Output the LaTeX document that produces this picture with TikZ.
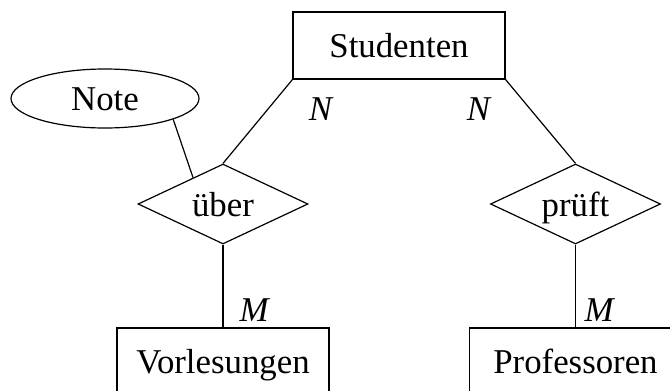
\documentclass[tikz,border=0pt]{standalone}
\usepackage{fontspec}
\setmainfont{Liberation Serif}
\usepackage{tikz}
\usetikzlibrary{shapes.geometric, positioning, calc}

\begin{document}
\begin{tikzpicture}[x=0.5pt, y=-0.5pt, font=\fontsize{17.4pt}{20pt}\selectfont]
    % Styles
    \tikzstyle{entity} = [rectangle, draw, line width=0.6pt, inner sep=0pt, text height=12.5pt, text depth=0.5pt, minimum width=106pt, minimum height=33.5pt]
    \tikzstyle{relation} = [diamond, draw, line width=0.6pt, inner sep=0pt, text height=12.5pt, text depth=0pt, aspect=2, minimum width=85pt, minimum height=40pt]
    \tikzstyle{attrib} = [ellipse, draw, line width=0.6pt, inner sep=0pt, text height=12.5pt, text depth=0.5pt, minimum width=94pt, minimum height=29.5pt]
    \tikzstyle{card} = [inner sep=0pt, font=\fontsize{17.4pt}{20pt}\selectfont\itshape]
    \tikzstyle{line} = [draw, line width=0.6pt]

    \useasboundingbox (0,0) rectangle (670,391);

    % Entities
    \node [entity] (stud) at (399,45.5) {Studenten};
    \node [entity] (vorl) at (223,361.5) {Vorlesungen};
    \node [entity] (prof) at (575.5,361.5) {Professoren};

    % Relationships and attribute
    \node [relation] (ueber) at (223,204) {über};
    \node [relation] (prueft) at (575.5,204) {prüft};
    \node [attrib] (note) at (105,98.5) {Note};

    % Cardinalities
    \node [card] (n1) at (320.5,109) {N};
    \node [card] (n2) at (478.5,109) {N};
    \node [card] (m1) at (254,310) {M};
    \node [card] (m2) at (599,310) {M};

    % Paths
    \path [line] (stud.south west) -- (ueber.north);
    \path [line] (stud.south east) -- (prueft.north);
    \path [line] (note.-17) -- ($(ueber.west)!0.65!(ueber.north)$);
    \path [line] (ueber.south) -- (vorl.north);
    \path [line] (prueft.south) -- (prof.north);
\end{tikzpicture}
\end{document}
